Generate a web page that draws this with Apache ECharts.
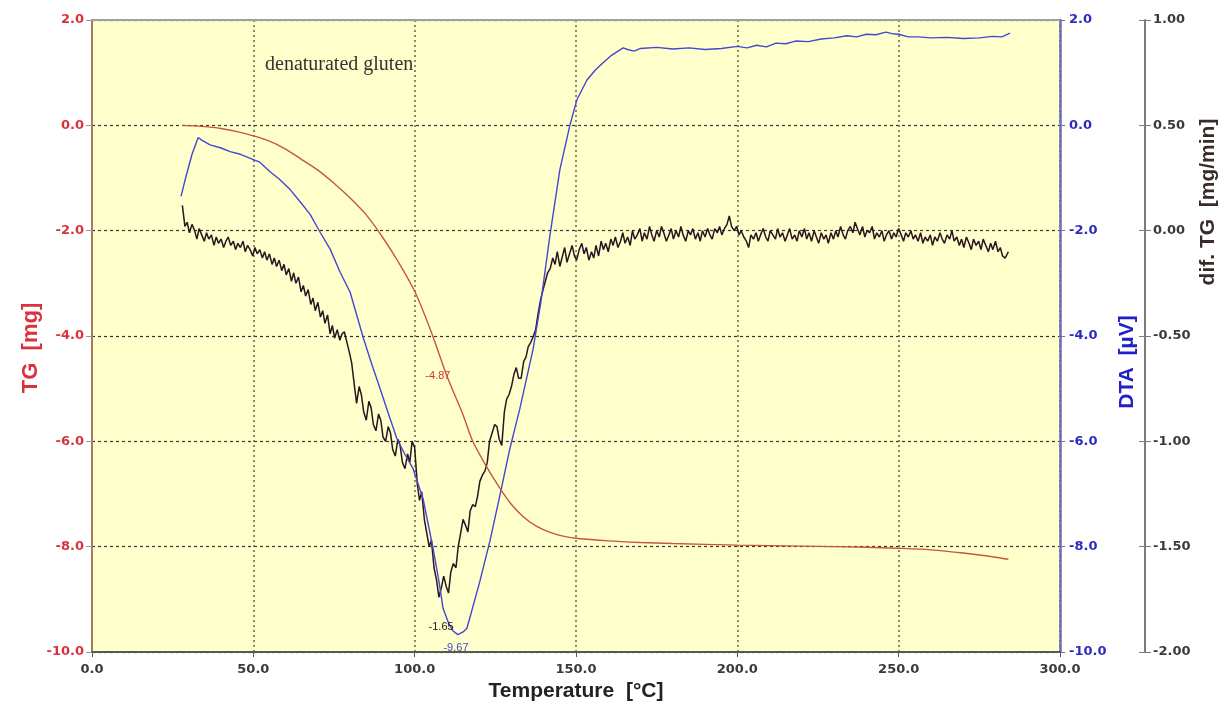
<!DOCTYPE html>
<html>
<head>
<meta charset="utf-8">
<script src="https://cdn.jsdelivr.net/npm/echarts@6/dist/echarts.min.js"></script>
<style>
html,body{margin:0;padding:0;background:#ffffff;}
#chart{width:1221px;height:707px;}
</style>
</head>
<body>
<div id="chart"></div>
<script>
// ---- data (temperature °C, value) ----
const tgData = [
  [28,0.0],[32,-0.01],[36,-0.03],[40,-0.06],[45,-0.12],[50,-0.2],[55,-0.3],[60,-0.45],
  [65,-0.65],[70,-0.85],[75,-1.1],[80,-1.38],[85,-1.7],[90,-2.12],[95,-2.6],[100,-3.15],
  [105,-3.9],[110,-4.76],[115,-5.5],[118,-6.0],[122,-6.45],[126,-6.85],[130,-7.2],[134,-7.45],
  [138,-7.62],[142,-7.73],[146,-7.8],[150,-7.84],[160,-7.89],[170,-7.92],[180,-7.94],[200,-7.97],
  [220,-7.99],[240,-8.01],[250,-8.03],[260,-8.06],[270,-8.12],[280,-8.2],[284,-8.24]
];
const dtaData = [
  [27.6,-1.35],[29,-1.0],[31,-0.55],[32.9,-0.23],[34,-0.28],[36.6,-0.37],[40,-0.43],[42.8,-0.5],
  [46,-0.55],[50,-0.65],[52,-0.7],[55.2,-0.88],[58,-1.02],[61.4,-1.22],[64.5,-1.45],[67.6,-1.69],
  [70.7,-2.03],[73.8,-2.35],[76.9,-2.79],[80,-3.17],[84,-4.02],[86.5,-4.5],[89.3,-5.0],[92,-5.5],
  [94.5,-5.95],[97,-6.25],[99.5,-6.52],[102.6,-7.09],[105.7,-8.03],[107.5,-8.65],[108.8,-9.17],
  [110.5,-9.45],[111.9,-9.6],[113.4,-9.67],[115,-9.62],[116.2,-9.55],[118,-9.15],[120.2,-8.66],
  [123.3,-7.9],[126.4,-7.03],[129.5,-6.14],[132.6,-5.38],[136.7,-4.25],[139,-3.4],[141.9,-2.1],
  [145,-0.84],[148.1,0.0],[150.3,0.49],[153.4,0.86],[156,1.05],[158.4,1.19],[161,1.33],[164.6,1.47],
  [166,1.44],[168,1.41],[170,1.46],[175,1.48],[180,1.45],[185,1.47],[190,1.44],[195,1.46],[200,1.5],
  [203,1.47],[206,1.52],[209,1.49],[212,1.56],[215,1.55],[218,1.6],[222,1.59],[226,1.64],[230,1.66],
  [234,1.7],[237,1.68],[240,1.73],[243,1.72],[246,1.77],[248,1.74],[250,1.73],[253,1.68],[256,1.68],
  [260,1.66],[265,1.67],[270,1.65],[275,1.66],[279,1.69],[282,1.68],[284.5,1.75]
];
const difTgData = [
  [28,0.12],[28.8,0.02],[29.5,0.04],[30.2,-0.01],[31,0.03],[31.8,0.0],[32.5,-0.04],[33.2,0.01],
  [34,-0.02],[34.8,-0.05],[35.5,-0.01],[36.2,-0.04],[37,-0.02],[37.8,-0.07],[38.5,-0.03],[39.2,-0.06],
  [40,-0.04],[40.8,-0.08],[41.5,-0.05],[42.2,-0.03],[43,-0.07],[43.8,-0.05],[44.5,-0.09],[45.2,-0.06],
  [46,-0.08],[46.8,-0.05],[47.5,-0.10],[48.2,-0.07],[49,-0.09],[49.8,-0.12],[50.5,-0.08],[51.2,-0.11],
  [52,-0.09],[52.8,-0.13],[53.5,-0.10],[54.2,-0.14],[55,-0.11],[55.8,-0.16],[56.5,-0.13],[57.2,-0.17],
  [58,-0.14],[58.8,-0.19],[59.5,-0.16],[60.2,-0.21],[61,-0.18],[61.8,-0.24],[62.5,-0.20],[63.2,-0.25],
  [64,-0.22],[64.8,-0.29],[65.5,-0.26],[66.2,-0.31],[67,-0.28],[67.8,-0.35],[68.5,-0.32],[69.2,-0.38],
  [70,-0.34],[70.8,-0.41],[71.5,-0.38],[72.2,-0.44],[73,-0.40],[73.8,-0.49],[74.5,-0.45],[75.2,-0.51],
  [76,-0.47],[76.8,-0.52],[77.5,-0.49],[78.2,-0.48],[79,-0.53],[79.8,-0.58],[80.5,-0.63],[81.2,-0.72],
  [82,-0.82],[82.8,-0.74],[83.5,-0.78],[84.2,-0.86],[85,-0.90],[85.8,-0.81],[86.5,-0.84],[87.2,-0.92],
  [88,-0.95],[88.8,-0.87],[89.5,-0.90],[90.2,-0.98],[91,-1.00],[91.8,-0.93],[92.5,-0.96],[93.2,-1.04],
  [94,-1.07],[94.8,-0.99],[95.5,-1.02],[96.2,-1.1],[97,-1.13],[97.8,-1.06],[98.5,-1.10],[99.2,-1.0],
  [100,-1.03],[100.8,-1.2],[101.5,-1.28],[102.2,-1.24],[103,-1.37],[103.8,-1.44],[104.5,-1.50],
  [105.2,-1.47],[106,-1.60],[106.8,-1.66],[107.5,-1.74],[108.2,-1.7],[109,-1.64],[109.8,-1.69],
  [110.5,-1.72],[111.2,-1.62],[112,-1.58],[112.8,-1.6],[113.5,-1.50],[114.2,-1.44],[115,-1.37],
  [115.8,-1.4],[116.5,-1.43],[117.2,-1.33],[118,-1.30],[118.8,-1.31],[119.5,-1.26],[120.2,-1.19],
  [121,-1.16],[121.8,-1.14],[122.5,-1.10],[123.2,-1.0],[124,-0.96],[124.8,-0.92],[125.5,-0.93],
  [126.2,-0.99],[127,-1.02],[127.8,-0.86],[128.5,-0.80],[129.2,-0.78],[130,-0.74],[130.8,-0.68],
  [131.5,-0.65],[132.2,-0.7],[133,-0.70],[133.8,-0.62],[134.5,-0.60],[135.2,-0.55],[136,-0.53],
  [136.8,-0.5],[137.5,-0.47],[138.2,-0.4],[139,-0.33],[139.8,-0.28],[140.5,-0.24],[141.2,-0.2],
  [142,-0.18],[142.8,-0.13],[143.5,-0.16],[144.2,-0.10],[145,-0.17],[145.8,-0.12],[146.5,-0.08],
  [147.2,-0.15],[148,-0.11],[148.8,-0.07],[149.5,-0.12],[150.2,-0.14],[151,-0.09],[151.8,-0.06],
  [152.5,-0.11],[153.2,-0.08],[154,-0.14],[154.8,-0.10],[155.5,-0.13],[156.2,-0.07],[157,-0.12],
  [157.8,-0.05],[158.5,-0.09],[159.2,-0.06],[160,-0.10],[160.8,-0.04],[161.5,-0.07],[162.2,-0.03],
  [163,-0.08],[163.8,-0.05],[164.5,-0.01],[165.2,-0.06],[166,-0.03],[166.8,-0.07],[167.5,0.0],
  [168.2,-0.04],[169,-0.02],[169.8,0.01],[170.5,-0.05],[171.2,-0.01],[172,-0.04],[172.8,0.02],
  [173.5,-0.02],[174.2,-0.05],[175,0.0],[175.8,-0.03],[176.5,0.02],[177.2,-0.01],[178,-0.05],
  [178.8,-0.02],[179.5,0.01],[180.2,-0.04],[181,0.0],[181.8,-0.03],[182.5,0.02],[183.2,-0.02],
  [184,-0.05],[184.8,0.0],[185.5,-0.02],[186.2,0.01],[187,-0.04],[187.8,-0.01],[188.5,-0.05],
  [189.2,0.0],[190,-0.03],[190.8,0.01],[191.5,-0.02],[192.2,-0.04],[193,0.01],[193.8,-0.01],
  [194.5,0.02],[195.2,-0.02],[196,0.01],[196.8,0.03],[197.5,0.07],[198.2,0.02],[199,0.0],
  [199.8,0.02],[200.5,-0.02],[201.2,0.0],[202,-0.03],[202.8,-0.05],[203.5,-0.08],[204.2,-0.02],
  [205,-0.04],[205.8,-0.01],[206.5,-0.05],[207.2,-0.02],[208,0.01],[208.8,-0.03],[209.5,-0.05],
  [210.2,0.0],[211,-0.02],[211.8,-0.04],[212.5,0.01],[213.2,-0.03],[214,-0.01],[214.8,-0.05],
  [215.5,-0.02],[216.2,0.01],[217,-0.04],[217.8,-0.02],[218.5,-0.05],[219.2,0.0],[220,-0.03],
  [220.8,0.01],[221.5,-0.04],[222.2,-0.01],[223,-0.05],[223.8,0.0],[224.5,-0.03],[225.2,-0.06],
  [226,-0.01],[226.8,-0.04],[227.5,-0.02],[228.2,-0.06],[229,-0.01],[229.8,-0.04],[230.5,0.0],
  [231.2,-0.03],[232,0.02],[232.8,-0.02],[233.5,-0.04],[234.2,0.0],[235,0.02],[235.8,-0.01],
  [236.5,0.04],[237.2,0.01],[238,-0.02],[238.8,0.02],[239.5,-0.03],[240.2,0.0],[241,-0.01],
  [241.8,0.02],[242.5,-0.04],[243.2,-0.01],[244,-0.03],[244.8,0.0],[245.5,-0.05],[246.2,-0.02],
  [247,0.0],[247.8,-0.04],[248.5,-0.01],[249.2,-0.03],[250,0.01],[250.8,-0.02],[251.5,-0.05],
  [252.2,-0.01],[253,-0.03],[253.8,0.0],[254.5,-0.04],[255.2,-0.02],[256,-0.05],[256.8,-0.01],
  [257.5,-0.06],[258.2,-0.03],[259,-0.05],[259.8,-0.02],[260.5,-0.07],[261.2,-0.03],[262,-0.05],
  [262.8,-0.01],[263.5,-0.04],[264.2,-0.06],[265,-0.02],[265.8,-0.04],[266.5,0.0],[267.2,-0.05],
  [268,-0.03],[268.8,-0.07],[269.5,-0.04],[270.2,-0.08],[271,-0.03],[271.8,-0.06],[272.5,-0.09],
  [273.2,-0.04],[274,-0.07],[274.8,-0.05],[275.5,-0.09],[276.2,-0.04],[277,-0.07],[277.8,-0.1],
  [278.5,-0.06],[279.2,-0.09],[280,-0.05],[280.8,-0.1],[281.5,-0.08],[282.2,-0.12],[283,-0.13],
  [284,-0.10]
];
// annotations: [text, temperature, value]
const tgNote = ['-4.87', 107.2, -4.76];
const difTgNote = ['-1.65', 108.2, -1.88];
const dtaNote = ['-9.67', 112.8, -9.93];
const sampleName = 'denaturated gluten';
// axis ranges [min, max, interval]
const tempRange = [0, 300, 50];
const tgRange = [-10, 2, 2];
const dtaRange = [-10, 2, 2];
const difTgRange = [-2, 1, 0.5];

const FONT = 'Liberation Sans, Arial, sans-serif';
const TICKFONT = 'DejaVu Sans, Verdana, sans-serif';
const chart = echarts.init(document.getElementById('chart'));

function note(n, color) {
  return {
    symbol: 'circle', symbolSize: 0, silent: true,
    label: {show: true, position: 'inside', formatter: n[0], color: color, fontSize: 11, fontFamily: FONT},
    data: [{coord: [n[1], n[2]], value: n[0]}]
  };
}
function tickLabel(color, fmt, margin) {
  return {formatter: fmt, color: color, fontWeight: 'bold', fontSize: 13, fontFamily: TICKFONT, margin: margin};
}

const option = {
  animation: false,
  backgroundColor: '#ffffff',
  grid: {left: 92, right: 161, top: 20, bottom: 53, show: true, backgroundColor: '#FFFFCC', borderWidth: 0},
  xAxis: [{
    type: 'value', min: tempRange[0], max: tempRange[1], interval: tempRange[2],
    axisLine: {onZero: false, lineStyle: {color: '#5a5a4c', width: 2}},
    axisTick: {show: true, length: 5, lineStyle: {color: '#5a5a4c'}},
    axisLabel: tickLabel('#3a3a3a', v => v.toFixed(1), 11),
    splitLine: {show: true, lineStyle: {color: '#66664a', type: [2, 3], width: 1.5}},
    name: 'Temperature  [°C]', nameLocation: 'middle', nameGap: 29,
    nameTextStyle: {color: '#222', fontWeight: 'bold', fontSize: 21, fontFamily: FONT}
  }, {
    type: 'value', position: 'top', min: tempRange[0], max: tempRange[1],
    axisLine: {onZero: false, lineStyle: {color: '#a0a0a0', width: 2}},
    axisTick: {show: false}, axisLabel: {show: false}, splitLine: {show: false}
  }],
  yAxis: [{
    type: 'value', position: 'left', min: tgRange[0], max: tgRange[1], interval: tgRange[2],
    axisLine: {show: true, onZero: false, lineStyle: {color: '#a57c60', width: 2}},
    axisTick: {show: true, length: 6, lineStyle: {color: '#999'}},
    axisLabel: tickLabel('#d8323c', v => v.toFixed(1), 8),
    splitLine: {show: true, lineStyle: {color: '#333', type: [3, 3], width: 1.2}}
  }, {
    type: 'value', position: 'right', min: dtaRange[0], max: dtaRange[1], interval: dtaRange[2],
    axisLine: {show: true, onZero: false, lineStyle: {color: '#6c6cb8', width: 2.5}},
    axisTick: {show: true, length: 5, lineStyle: {color: '#6c6cb8'}},
    axisLabel: tickLabel('#2c2cc0', v => v.toFixed(1), 9),
    splitLine: {show: false}
  }, {
    type: 'value', position: 'right', offset: 85, min: difTgRange[0], max: difTgRange[1], interval: difTgRange[2],
    axisLine: {show: true, onZero: false, lineStyle: {color: '#7c7c7c', width: 2}},
    axisTick: {show: true, length: 6, lineStyle: {color: '#7c7c7c'}},
    axisLabel: tickLabel('#3a3a3a', v => v.toFixed(2), 8),
    splitLine: {show: false}
  }, {
    type: 'value', position: 'right', offset: 85, min: difTgRange[0], max: difTgRange[1], interval: difTgRange[2],
    axisLine: {show: false, onZero: false},
    axisTick: {show: true, inside: true, length: 6, lineStyle: {color: '#7c7c7c'}},
    axisLabel: {show: false}, splitLine: {show: false}
  }],
  series: [{
    name: 'dif. TG', type: 'line', yAxisIndex: 2, data: difTgData, showSymbol: false, symbol: 'none',
    lineStyle: {color: '#2a1520', width: 1.5}, z: 3, markPoint: note(difTgNote, '#1a1a1a')
  }, {
    name: 'DTA', type: 'line', yAxisIndex: 1, data: dtaData, showSymbol: false, symbol: 'none',
    lineStyle: {color: '#4646d2', width: 1.4}, z: 4, markPoint: note(dtaNote, '#4646d2')
  }, {
    name: 'TG', type: 'line', yAxisIndex: 0, data: tgData, showSymbol: false, symbol: 'none', smooth: 0.3,
    lineStyle: {color: '#c8553d', width: 1.4}, z: 5, markPoint: note(tgNote, '#d8323c')
  }],
  graphic: [
    {type: 'text', left: 265, top: 55, style: {text: sampleName, fill: '#333', font: '20px "Liberation Serif", "Times New Roman", serif'}},
    {type: 'text', x: 31, y: 348, rotation: Math.PI / 2, style: {text: 'TG  [mg]', fill: '#d8323c', font: 'bold 22px ' + FONT, align: 'center', verticalAlign: 'middle'}},
    {type: 'text', x: 1127, y: 362, rotation: Math.PI / 2, style: {text: 'DTA  [µV]', fill: '#2020c8', font: 'bold 21px ' + FONT, align: 'center', verticalAlign: 'middle'}},
    {type: 'text', x: 1208, y: 202, rotation: Math.PI / 2, style: {text: 'dif. TG  [mg/min]', fill: '#3a2a2a', font: 'bold 21px ' + FONT, align: 'center', verticalAlign: 'middle'}}
  ]
};
chart.setOption(option);
</script>
</body>
</html>
